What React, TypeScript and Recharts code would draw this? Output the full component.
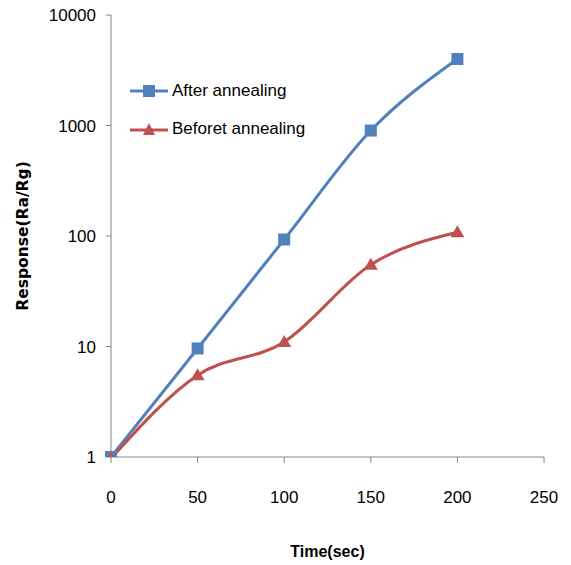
import React from 'react';
import { LineChart, Line, XAxis, YAxis } from 'recharts';

const times = [0, 50, 100, 150, 200];
const afterAnnealing = [1, 9.6, 93, 900, 4000];
const beforeAnnealing = [0.97, 5.5, 11, 55, 108];
const xTicks = [0, 50, 100, 150, 200, 250];
const yTicks = [1, 10, 100, 1000, 10000];

const BLUE = '#4f81bd';
const RED = '#c0504d';
const FONT = '"Liberation Sans", Arial, sans-serif';

const data = times.map((t, i) => ({ time: t, after: afterAnnealing[i], before: beforeAnnealing[i] }));

const SquareDot = (props: any) => {
    const { cx, cy } = props;
    if (cx == null || cy == null) return null;
    return <rect x={cx - 6} y={cy - 6} width={12} height={12} fill={BLUE} />;
};

const TriangleDot = (props: any) => {
    const { cx, cy } = props;
    if (cx == null || cy == null) return null;
    return <path d={`M${cx},${cy - 7} L${cx + 7},${cy + 5} L${cx - 7},${cy + 5} Z`} fill={RED} />;
};

// legend sits inside the plot, top left
const LegendBox = () => (
    <div style={{ position: 'absolute', left: 130, top: 72, fontFamily: FONT, fontSize: 17, color: '#000' }}>
        <div style={{ display: 'flex', alignItems: 'center', height: 38 }}>
            <svg width={40} height={14}>
                <line x1={0} y1={7} x2={38} y2={7} stroke={BLUE} strokeWidth={3} />
                <rect x={13} y={1} width={12} height={12} fill={BLUE} />
            </svg>
            <span style={{ marginLeft: 2 }}>After annealing</span>
        </div>
        <div style={{ display: 'flex', alignItems: 'center', height: 38 }}>
            <svg width={40} height={14}>
                <line x1={0} y1={8} x2={38} y2={8} stroke={RED} strokeWidth={3} />
                <path d="M19,1 L25,13 L13,13 Z" fill={RED} />
            </svg>
            <span style={{ marginLeft: 2 }}>Beforet annealing</span>
        </div>
    </div>
);

export default function App() {
    return (
        <div style={{ position: 'absolute', left: 0, top: 0, width: 571, height: 565, background: '#fff' }}>
            <LineChart width={571} height={565} data={data} margin={{ top: 15, right: 27, bottom: 0, left: 0 }}>
                <XAxis
                    dataKey="time"
                    type="number"
                    domain={[0, 250]}
                    ticks={xTicks}
                    height={108}
                    stroke="#868686"
                    tickSize={6}
                    tickMargin={28}
                    tick={{ fill: '#000', fontSize: 17, fontFamily: FONT }}
                    label={{
                        value: 'Time(sec)',
                        position: 'insideBottom',
                        offset: 8,
                        style: { fontWeight: 'bold', fontSize: 16, fontFamily: FONT, fill: '#000' },
                    }}
                />
                <YAxis
                    scale="log"
                    domain={[1, 10000]}
                    ticks={yTicks}
                    allowDataOverflow
                    width={111}
                    stroke="#868686"
                    tickSize={5}
                    tickMargin={10}
                    tick={{ fill: '#000', fontSize: 17, fontFamily: FONT }}
                    label={{
                        value: 'Response(Ra/Rg)',
                        angle: -90,
                        position: 'insideLeft',
                        offset: 22,
                        style: { textAnchor: 'middle', fontWeight: 'bold', fontSize: 15.5, fontFamily: '"DejaVu Sans", Verdana, sans-serif', fill: '#000' },
                    }}
                />
                <Line
                    type="monotone"
                    dataKey="after"
                    stroke={BLUE}
                    strokeWidth={3}
                    dot={<SquareDot />}
                    activeDot={false}
                    isAnimationActive={false}
                />
                <Line
                    type="monotone"
                    dataKey="before"
                    stroke={RED}
                    strokeWidth={3}
                    dot={<TriangleDot />}
                    activeDot={false}
                    isAnimationActive={false}
                />
            </LineChart>
            <LegendBox />
        </div>
    );
}
